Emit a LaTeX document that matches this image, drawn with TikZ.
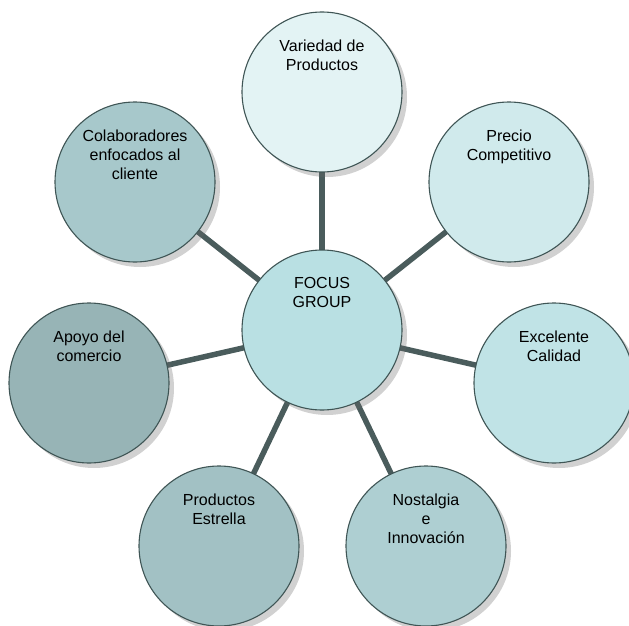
\documentclass[tikz,border=0pt]{standalone}
\usepackage{fontspec}
\setmainfont{Liberation Sans}
\usetikzlibrary{shadows,backgrounds}
\definecolor{linegray}{HTML}{4A5C5C}
\definecolor{rimgray}{HTML}{3F5555}
\definecolor{cvar}{HTML}{E3F3F4}
\definecolor{cpre}{HTML}{D0EAEC}
\definecolor{cexc}{HTML}{C0E3E6}
\definecolor{cnos}{HTML}{AECFD2}
\definecolor{cpro}{HTML}{A2C1C4}
\definecolor{capo}{HTML}{97B4B6}
\definecolor{ccol}{HTML}{A7C8CB}
\definecolor{cfoc}{HTML}{B9E0E3}

\begin{document}
\begin{tikzpicture}
[x=1pt,y=-1pt,bubble/.style={circle,draw=rimgray,line width=1.1pt,minimum size=160pt,inner sep=0pt,
 drop shadow={shadow xshift=5pt,shadow yshift=-5pt,opacity=.3,fill=black!60}},
 txt/.style={inner sep=0pt,align=center,anchor=north,yshift=-28pt,
 font=\fontsize{16}{19}\selectfont}]
\useasboundingbox (0,0) rectangle (629,626);
\node[bubble,fill=cfoc,label={[txt]north:FOCUS\\GROUP}] (foc) at (322,330) {};
\node[bubble,fill=cvar,label={[txt]north:Variedad de\\Productos}] (var) at (322,92) {};
\node[bubble,fill=cpre,label={[txt]north:Precio\\Competitivo}] (pre) at (509,182) {};
\node[bubble,fill=cexc,label={[txt]north:Excelente\\Calidad}] (exc) at (554,383) {};
\node[bubble,fill=cnos,label={[txt]north:Nostalgia\\e\\Innovación}] (nos) at (426,546) {};
\node[bubble,fill=cpro,label={[txt]north:Productos\\Estrella}] (pro) at (219,546) {};
\node[bubble,fill=capo,label={[txt]north:Apoyo del\\comercio}] (apo) at (89,383) {};
\node[bubble,fill=ccol,label={[txt]north:Colaboradores\\enfocados al\\cliente}] (col) at (135,182) {};
\begin{scope}[on background layer]
\foreach \to in {var,pre,exc,nos,pro,apo,col}
\draw[linegray,line width=5.5pt] (foc.center) -- (\to.center);
\end{scope}
\end{tikzpicture}
\end{document}
